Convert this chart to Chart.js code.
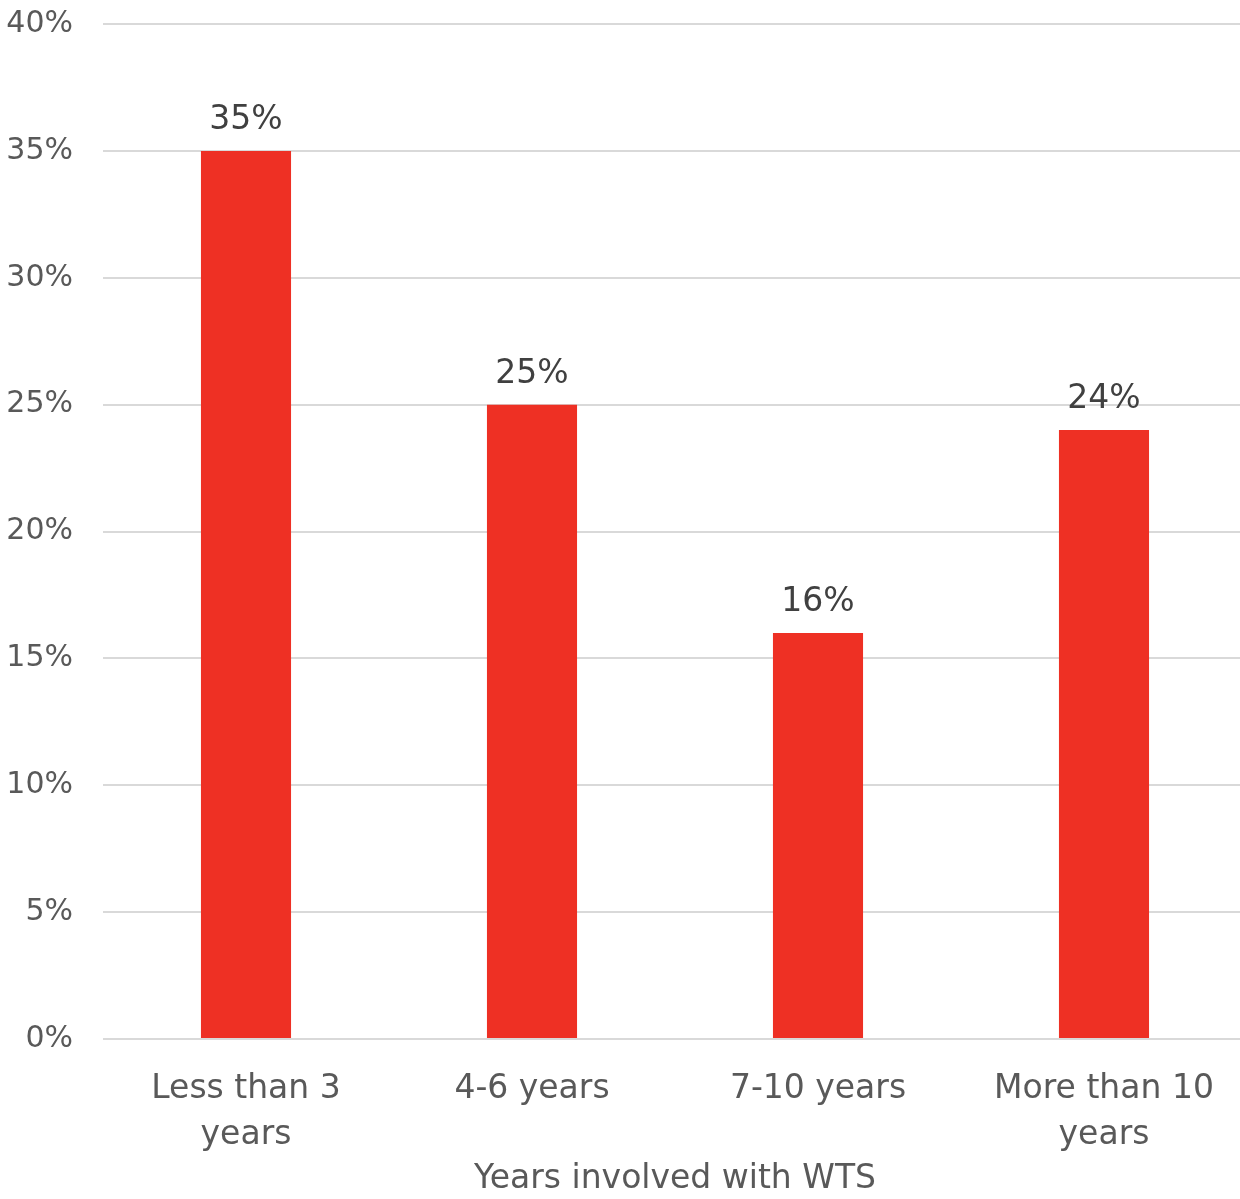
<!DOCTYPE html>
<html>
<head>
<meta charset="utf-8">
<script src="https://cdn.jsdelivr.net/npm/chart.js@4/dist/chart.umd.min.js"></script>
<style>
  html,body{margin:0;padding:0;background:#fff;overflow:hidden;}
  #wrap{position:relative;width:1247px;height:1199px;}
</style>
</head>
<body>
<div id="wrap"><canvas id="yearsChart"></canvas></div>
<script>
const categories = [['Less than 3','years'], '4-6 years', '7-10 years', ['More than 10','years']];
const shares = [0.35, 0.25, 0.16, 0.24];
const yTicks = [0, 0.05, 0.10, 0.15, 0.20, 0.25, 0.30, 0.35, 0.40];

const FONT = '"DejaVu Sans", sans-serif';
const pct = v => Math.round(v * 100) + '%';

// value labels above each bar
const barLabels = {
  id:'barLabels',
  afterDatasetsDraw(chart){
    const ctx = chart.ctx;
    const meta = chart.getDatasetMeta(0);
    ctx.save();
    ctx.font = '33px ' + FONT;
    ctx.fillStyle = '#404040';
    ctx.textAlign = 'center';
    ctx.textBaseline = 'bottom';
    meta.data.forEach((bar,i)=>{
      ctx.fillText(pct(shares[i]), bar.x, bar.y - 14);
    });
    ctx.restore();
  }
};

new Chart(document.getElementById('yearsChart'),{
  type:'bar',
  data:{
    labels:categories,
    datasets:[{
      data:shares,
      backgroundColor:'#EE3024',
      categoryPercentage:1,
      barPercentage:0.315
    }]
  },
  options:{
    responsive:true,
    maintainAspectRatio:false,
    animation:false,
    layout:{ padding:{ top:24, right:0, left:0, bottom:0 } },
    plugins:{ legend:{ display:false }, tooltip:{ enabled:false } },
    scales:{
      x:{
        grid:{ display:false },
        border:{ display:false },
        ticks:{ color:'#595959', font:{ family:FONT, size:33, lineHeight:1.38 }, padding:20, maxRotation:0 },
        title:{ display:true, text:'Years involved with WTS', color:'#595959',
                font:{ family:FONT, size:33 }, padding:{ top:8, bottom:0 } },
        afterFit:s=>{ s.height = 160; s.paddingLeft = 0; s.paddingRight = 0; }
      },
      y:{
        min:0, max:0.4,
        afterBuildTicks:s=>{ s.ticks = yTicks.map(v=>({ value:v })); },
        grid:{ color:'#d9d9d9', lineWidth:2, drawTicks:false },
        border:{ display:false },
        ticks:{ color:'#595959', font:{ family:FONT, size:30 }, padding:30, callback:v=>pct(v) },
        afterFit:s=>{ s.width = 103; s.paddingTop = 0; s.paddingBottom = 0; }
      }
    }
  },
  plugins:[barLabels]
});
</script>
</body>
</html>
